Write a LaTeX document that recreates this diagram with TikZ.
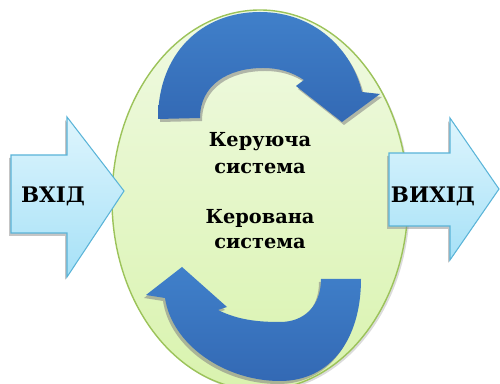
\documentclass[tikz,border=0pt]{standalone}
\usepackage{fontspec}
\setmainfont{DejaVu Serif}
\begin{document}
\begin{tikzpicture}[x=0.02cm, y=-0.02cm, line join=miter]
  \definecolor{ovaltop}{HTML}{F0FAE3}
  \definecolor{ovalbot}{HTML}{D9F3AE}
  \definecolor{ovalline}{HTML}{9CC35A}
  \definecolor{looptop}{HTML}{4080CA}
  \definecolor{loopbot}{HTML}{3369B4}
  \definecolor{sidetop}{HTML}{DEF5FD}
  \definecolor{sidebot}{HTML}{A6E1F7}
  \definecolor{sideline}{HTML}{5AB4D8}
  \tikzset{
    oval/.style={draw=ovalline, line width=0.8pt, top color=ovaltop, bottom color=ovalbot},
    ovalshadow/.style={fill=black!35, opacity=0.4},
    loop/.style={top color=looptop, bottom color=loopbot, draw=none},
    loopshadow/.style={fill=black!50, opacity=0.55},
    sidearrow/.style={draw=sideline, line width=0.6pt, top color=sidetop, bottom color=sidebot},
    sideshadow/.style={fill=black!45, opacity=0.5},
    bigtxt/.style={font=\bfseries\fontsize{12.2}{15}\selectfont, anchor=base, inner sep=0pt},
    midtxt/.style={font=\bfseries\fontsize{11}{14}\selectfont, anchor=base, inner sep=0pt}
  }
  \useasboundingbox (0,0) rectangle (500,384);

  % the oval and its soft shadow
  \fill[ovalshadow] (262,202) ellipse [x radius=148, y radius=190];
  \path[oval] (260,200) ellipse [x radius=148, y radius=190];

  % upper turning arrow
  \newcommand\upperloop{(158,119) .. controls (158,55) and (200,12) .. (260,12)
    .. controls (315,12) and (352,50) .. (362,92) -- (380,94) -- (342,122)
    -- (296,86) -- (304,80) .. controls (292,72) and (279,68) .. (263,68)
    .. controls (228,68) and (200,85) .. (200,118) -- cycle}
  % lower turning arrow
  \newcommand\lowerloop{(361,279) .. controls (361,340) and (330,381) .. (280,381)
    .. controls (225,381) and (172,345) .. (165,298) -- (146,295) -- (182,267)
    -- (227,307) -- (218,310) .. controls (238,320) and (258,322) .. (280,322)
    .. controls (305,322) and (321,305) .. (321,279) -- cycle}

  \fill[loopshadow, shift={(2,3)}] \upperloop;
  \path[loop] \upperloop;
  \fill[loopshadow, shift={(-2,3)}] \lowerloop;
  \path[loop] \lowerloop;

  % input and output arrows
  \fill[sideshadow, shift={(-2,3)}] (11,155) -- (67,155) -- (67,117) -- (124,191)
    -- (67,277) -- (67,233) -- (11,233) -- cycle;
  \path[sidearrow] (11,155) -- (67,155) -- (67,117) -- (124,191)
    -- (67,277) -- (67,233) -- (11,233) -- cycle;
  \fill[sideshadow, shift={(-2,3)}] (389,153) -- (450,153) -- (450,118) -- (499,189)
    -- (450,260) -- (450,226) -- (389,226) -- cycle;
  \path[sidearrow] (389,153) -- (450,153) -- (450,118) -- (499,189)
    -- (450,260) -- (450,226) -- (389,226) -- cycle;

  % labels
  \node[bigtxt] (in)  at (53,202.7)  {ВХІД};
  \node[bigtxt] (out) at (433,203)   {ВИХІД};
  \node[midtxt] (ctl1) at (260,146.7) {Керуюча};
  \node[midtxt] (ctl2) at (260,173.3) {система};
  \node[midtxt] (obj1) at (260,223.3) {Керована};
  \node[midtxt] (obj2) at (260,248.3) {система};
\end{tikzpicture}
\end{document}
